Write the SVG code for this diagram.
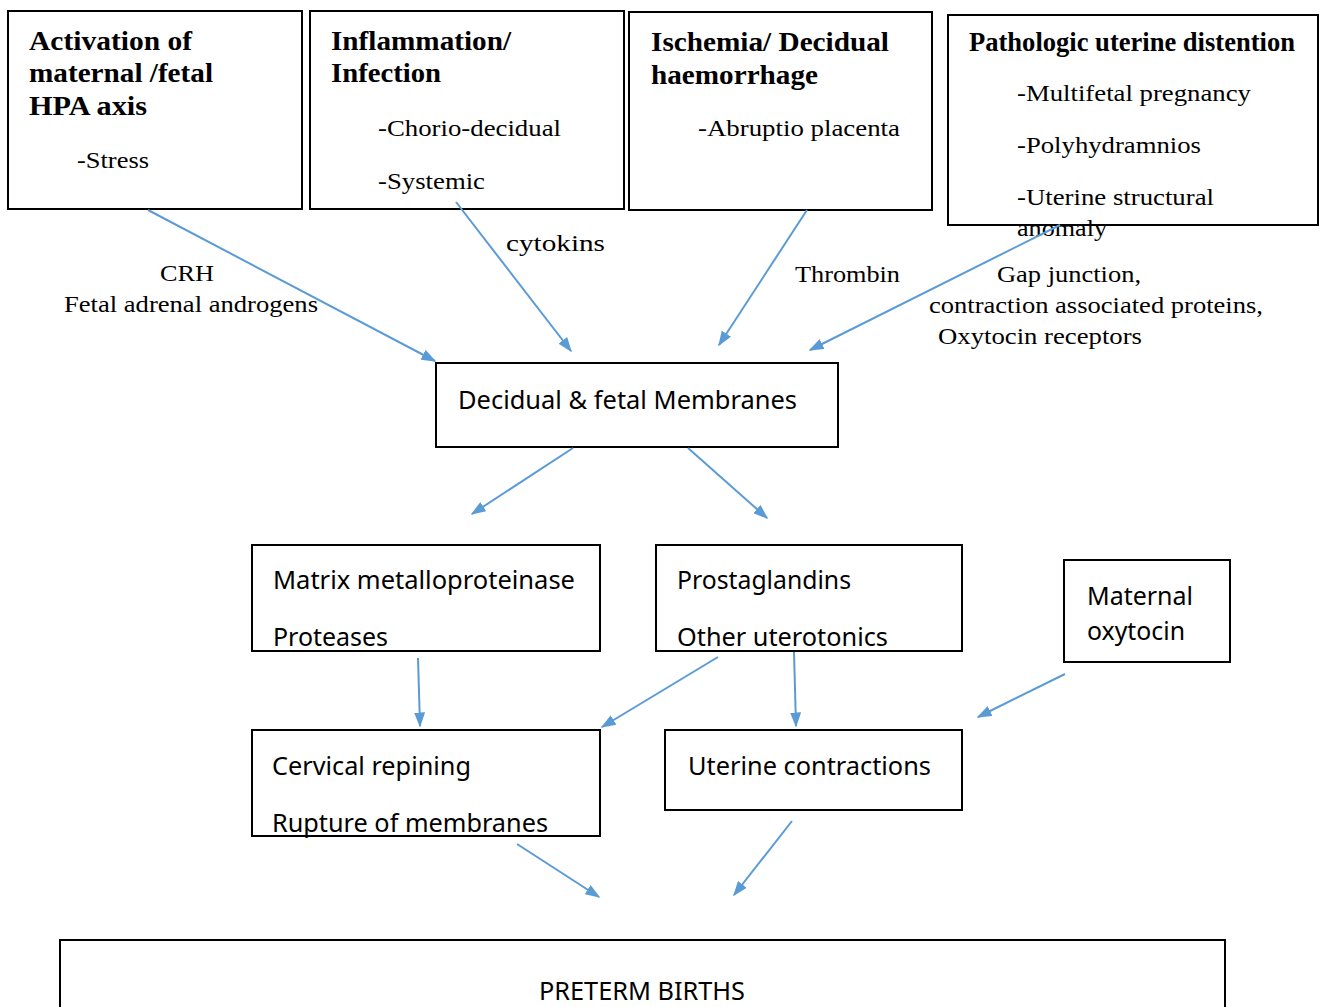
<svg xmlns="http://www.w3.org/2000/svg" width="1320" height="1007" viewBox="0 0 1320 1007">
<defs>
<style>
.box{fill:#fff;stroke:#000;stroke-width:2}
.hb{font-family:"Liberation Serif","Times New Roman",Times,serif;font-weight:bold;font-size:27px;fill:#000}
.sr{font-family:"Liberation Serif","Times New Roman",Times,serif;font-size:23px;fill:#000}
.ss{font-family:"Noto Sans","Open Sans",sans-serif;font-size:26px;fill:#000}
.conn line{stroke:#5B9BD5;stroke-width:2;marker-end:url(#ah)}
</style>
<marker id="ah" viewBox="0 0 10 10" refX="9" refY="5" markerWidth="15" markerHeight="11" markerUnits="userSpaceOnUse" orient="auto" preserveAspectRatio="none">
<path d="M0,0 L10,5 L0,10 z" fill="#5B9BD5"/>
</marker>
</defs>
<rect width="1320" height="1007" fill="#fff"/>

<g id="n-hpa">
<rect class="box" x="8" y="11" width="294" height="198"/>
<text class="hb" x="29" y="50" textLength="163" lengthAdjust="spacingAndGlyphs">Activation of</text>
<text class="hb" x="29" y="82" textLength="184" lengthAdjust="spacingAndGlyphs">maternal /fetal</text>
<text class="hb" x="29" y="115" textLength="118" lengthAdjust="spacingAndGlyphs">HPA axis</text>
<text class="sr" x="77" y="168" textLength="72" lengthAdjust="spacingAndGlyphs">-Stress</text>
</g>

<g id="n-infl">
<rect class="box" x="310" y="11" width="314" height="198"/>
<text class="hb" x="331" y="50" textLength="180" lengthAdjust="spacingAndGlyphs">Inflammation/</text>
<text class="hb" x="331" y="82" textLength="110" lengthAdjust="spacingAndGlyphs">Infection</text>
<text class="sr" x="378" y="136" textLength="183" lengthAdjust="spacingAndGlyphs">-Chorio-decidual</text>
<text class="sr" x="378" y="189" textLength="107" lengthAdjust="spacingAndGlyphs">-Systemic</text>
</g>

<g id="n-isch">
<rect class="box" x="629" y="12" width="303" height="198"/>
<text class="hb" x="651" y="51" textLength="238" lengthAdjust="spacingAndGlyphs">Ischemia/ Decidual</text>
<text class="hb" x="651" y="84" textLength="167" lengthAdjust="spacingAndGlyphs">haemorrhage</text>
<text class="sr" x="698" y="136" textLength="202" lengthAdjust="spacingAndGlyphs">-Abruptio placenta</text>
</g>

<g id="n-dist">
<rect class="box" x="948" y="15" width="370" height="210"/>
<text class="hb" x="969" y="51" font-size="25" textLength="326" lengthAdjust="spacingAndGlyphs">Pathologic uterine distention</text>
<text class="sr" x="1017" y="101" textLength="234" lengthAdjust="spacingAndGlyphs">-Multifetal pregnancy</text>
<text class="sr" x="1017" y="153" textLength="184" lengthAdjust="spacingAndGlyphs">-Polyhydramnios</text>
<text class="sr" x="1017" y="205" textLength="197" lengthAdjust="spacingAndGlyphs">-Uterine structural</text>
<text class="sr" x="1017" y="236" textLength="90" lengthAdjust="spacingAndGlyphs">anomaly</text>
</g>

<g id="n-decid">
<rect class="box" x="436" y="363" width="402" height="84"/>
<text class="ss" x="458" y="409" textLength="339" lengthAdjust="spacingAndGlyphs">Decidual &amp; fetal Membranes</text>
</g>

<g id="n-mmp">
<rect class="box" x="252" y="545" width="348" height="106"/>
<text class="ss" x="273" y="589" textLength="302" lengthAdjust="spacingAndGlyphs">Matrix metalloproteinase</text>
<text class="ss" x="273" y="646" textLength="115" lengthAdjust="spacingAndGlyphs">Proteases</text>
</g>

<g id="n-pg">
<rect class="box" x="656" y="545" width="306" height="106"/>
<text class="ss" x="677" y="589" textLength="174" lengthAdjust="spacingAndGlyphs">Prostaglandins</text>
<text class="ss" x="677" y="646" textLength="211" lengthAdjust="spacingAndGlyphs">Other uterotonics</text>
</g>

<g id="n-oxy">
<rect class="box" x="1064" y="560" width="166" height="102"/>
<text class="ss" x="1087" y="605" textLength="106" lengthAdjust="spacingAndGlyphs">Maternal</text>
<text class="ss" x="1087" y="640" textLength="98" lengthAdjust="spacingAndGlyphs">oxytocin</text>
</g>

<g id="n-cerv">
<rect class="box" x="252" y="730" width="348" height="106"/>
<text class="ss" x="272" y="775" textLength="199" lengthAdjust="spacingAndGlyphs">Cervical repining</text>
<text class="ss" x="272" y="832" textLength="276" lengthAdjust="spacingAndGlyphs">Rupture of membranes</text>
</g>

<g id="n-uc">
<rect class="box" x="665" y="730" width="297" height="80"/>
<text class="ss" x="688" y="775" textLength="243" lengthAdjust="spacingAndGlyphs">Uterine contractions</text>
</g>

<g id="n-ptb">
<rect class="box" x="60" y="940" width="1165" height="90"/>
<text class="ss" x="539" y="1000" font-size="25" textLength="206" lengthAdjust="spacingAndGlyphs">PRETERM BIRTHS</text>
</g>

<g id="connectors" class="conn">
<line x1="148" y1="210" x2="435" y2="361"/>
<line x1="456" y1="202" x2="571" y2="351"/>
<line x1="807" y1="210" x2="719" y2="345"/>
<line x1="1060" y1="225" x2="810" y2="350"/>
<line x1="573" y1="448" x2="472" y2="514"/>
<line x1="688" y1="448" x2="767" y2="518"/>
<line x1="418" y1="658" x2="420" y2="726"/>
<line x1="718" y1="657" x2="602" y2="727"/>
<line x1="794" y1="652" x2="796" y2="726"/>
<line x1="1065" y1="674" x2="978" y2="717"/>
<line x1="517" y1="844" x2="599" y2="897"/>
<line x1="792" y1="821" x2="734" y2="895"/>
</g>

<g id="labels">
<text class="sr" x="160" y="281" textLength="54" lengthAdjust="spacingAndGlyphs">CRH</text>
<text class="sr" x="64" y="312" textLength="254" lengthAdjust="spacingAndGlyphs">Fetal adrenal androgens</text>
<text class="sr" x="506" y="251" textLength="99" lengthAdjust="spacingAndGlyphs">cytokins</text>
<text class="sr" x="795" y="282" textLength="105" lengthAdjust="spacingAndGlyphs">Thrombin</text>
<text class="sr" x="997" y="282" textLength="144" lengthAdjust="spacingAndGlyphs">Gap junction,</text>
<text class="sr" x="929" y="313" textLength="334" lengthAdjust="spacingAndGlyphs">contraction associated proteins,</text>
<text class="sr" x="938" y="344" textLength="204" lengthAdjust="spacingAndGlyphs">Oxytocin receptors</text>
</g>
</svg>
